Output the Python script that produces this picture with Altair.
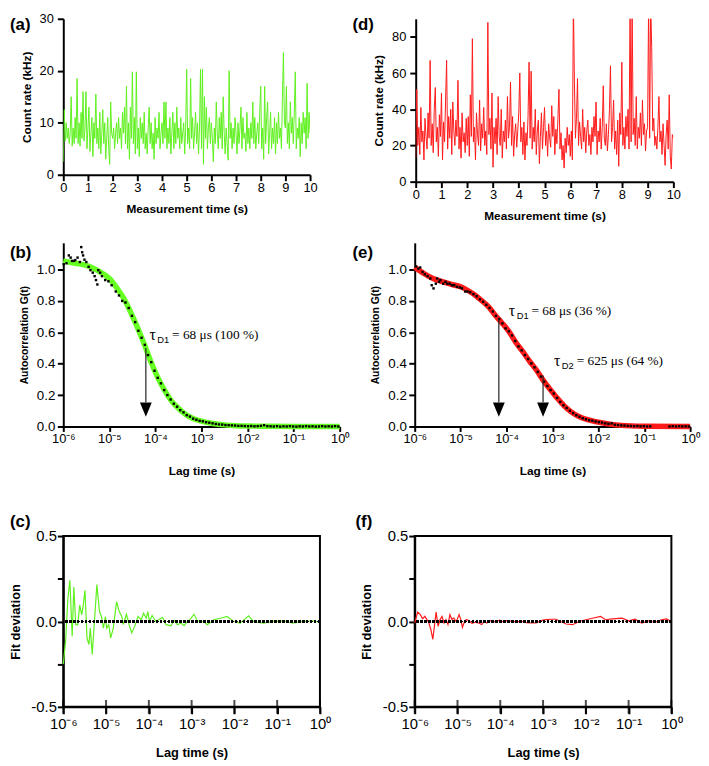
import altair as alt
import pandas as pd

FONT = "Liberation Sans"
SERIF = "Liberation Serif"
GREEN = "#5ef01e"
FIT_GREEN = "#66ff22"
RED = "#ff1a1a"

# ---------------- count-rate traces (kHz), one value every 0.04 s ----------------
count_a = [
    2.5, 12.5, 6.5, 10, 7, 9, 6, 8, 15, 5.5, 9, 6, 11, 7, 18.5, 6, 10, 5.5, 12, 7, 16, 6.5, 9, 16, 5,
    9, 13, 4.5, 8, 11, 3.5, 10, 7, 15.5, 6, 9, 5, 12, 4, 8, 12.5, 6, 10, 3, 7, 11, 5, 2, 14, 8,
    7, 9, 5, 8, 10, 6, 11, 7, 9, 5, 12, 8, 13, 6, 17, 5, 10, 3, 13, 7, 19.8, 6, 11, 4, 19.8,
    5, 9, 3.5, 11, 7, 10, 6, 12, 5, 8, 4, 9, 13, 6, 10, 5, 8, 3, 11, 6, 9, 7, 12, 5, 8,
    10, 6, 14, 7, 14, 5, 9, 6, 11, 4, 8, 12, 5, 10, 6, 13, 7, 9, 5, 11, 6, 8, 10, 4, 9,
    20.3, 6, 9, 5, 18.5, 7, 11, 5, 8, 12, 6, 10, 4, 9, 20.3, 5, 20.3, 2, 15, 7, 13, 5, 9, 11, 6,
    10, 7, 2.5, 9, 6, 14, 8, 5, 11, 7, 12, 5, 15, 8, 4, 9, 6, 2.8, 20, 7, 10, 5, 9, 6, 11,
    8, 4, 10, 6, 9, 13, 5, 11, 7, 8, 4.5, 12, 6, 9, 5, 10, 7, 14, 6, 11, 5, 8, 10, 6, 12,
    17, 5, 9, 3, 17, 6, 11, 14, 4, 8, 12, 5, 9, 6, 11, 4, 10, 6, 12, 7, 9, 5, 15, 23.5, 10,
    9, 17, 6, 10, 5, 14, 8, 11, 6, 12, 19.8, 5, 9, 7, 11, 3.5, 10, 6, 12, 8, 11, 5, 17.6, 7, 12,
    8,
]
count_d = [
    13, 51, 20, 30, 15, 41, 22, 28, 12, 35, 25, 18, 38, 24, 67, 20, 32, 16, 40, 52, 22, 30, 14, 37, 25,
    49, 12, 33, 22, 45, 67, 18, 36, 24, 40, 15, 44, 28, 20, 34, 25, 56, 18, 30, 13, 38, 22, 27, 16, 35,
    20, 36, 14, 48, 25, 79, 22, 30, 12, 38, 26, 20, 45, 17, 32, 24, 41, 20, 28, 15, 88, 26, 35, 18, 49,
    8, 30, 21, 35, 15, 47, 25, 20, 40, 13, 28, 22, 34, 18, 47, 24, 30, 55, 20, 36, 14, 26, 32, 19, 28,
    38, 60, 22, 30, 15, 33, 12, 27, 20, 36, 66, 24, 61, 18, 30, 22, 40, 15, 28, 34, 10, 25, 38, 18, 30,
    41, 20, 28, 14, 32, 24, 19, 42, 25, 36, 15, 29, 21, 35, 51, 18, 27, 12, 20, 7.5, 24, 16, 30, 20, 26,
    14, 28, 12, 100, 55, 24, 35, 57, 20, 33, 25, 18, 40, 22, 30, 16, 28, 34, 20, 26, 15, 30, 22, 36, 25,
    44, 15, 28, 22, 35, 18, 30, 53, 24, 20, 32, 17, 26, 40, 64, 22, 30, 45, 18, 28, 15, 34, 8.5, 38, 26,
    66, 20, 30, 18, 36, 25, 40, 18, 100, 22, 100, 26, 35, 20, 47, 18, 30, 24, 38, 20, 45, 26, 32, 17, 28,
    30, 100, 24, 100, 74, 28, 35, 20, 25, 18, 30, 47, 22, 28, 15, 32, 20, 9, 26, 34, 18, 48, 14, 7, 26,
    24,
]
SAMPLE_DT = 0.04

# ---------------- autocorrelation, sample 1 (b) ----------------
fit_b_exp = [-6.0, -5.75, -5.5, -5.25, -5.0, -4.85, -4.7, -4.55, -4.4, -4.25, -4.1, -3.95, -3.8,
             -3.65, -3.5, -3.35, -3.2, -3.0, -2.75, -2.5, -2.25, -2.0, -1.5, -1.0, 0.0]
fit_b_val = [1.055, 1.04, 1.027, 0.993, 0.943, 0.888, 0.822, 0.736, 0.638, 0.53, 0.414, 0.313, 0.23,
             0.162, 0.116, 0.078, 0.053, 0.034, 0.019, 0.01, 0.005, 0.003, 0.001, 0.0, 0.0]

dots_b_exp = [-5.99, -5.93, -5.88, -5.84, -5.81, -5.77, -5.74, -5.69, -5.64, -5.61, -5.59, -5.57, -5.54,
              -5.50, -5.45, -5.41, -5.36, -5.32, -5.29, -5.26, -5.24, -5.20, -5.16, -5.09, -5.02, -4.95,
              -4.86, -4.79,
              -4.72, -4.65, -4.58, -4.51, -4.44, -4.37, -4.30, -4.23, -4.16, -4.09, -4.02, -3.95, -3.88,
              -3.81, -3.74, -3.67, -3.60, -3.53, -3.46, -3.39, -3.32, -3.25, -3.18, -3.11, -3.04, -2.97,
              -2.90, -2.83, -2.76, -2.69, -2.62, -2.55, -2.48, -2.41, -2.34, -2.27, -2.20,
              -2.13, -2.06, -1.99, -1.92, -1.85, -1.78, -1.71, -1.64, -1.57, -1.50, -1.43, -1.36, -1.29,
              -1.22, -1.15, -1.08, -1.01, -0.94, -0.87, -0.80, -0.73, -0.66, -0.59, -0.52, -0.45, -0.38,
              -0.31, -0.24, -0.17, -0.10, -0.03]
dots_b_val = [1.034, 1.04, 1.09, 1.076, 1.055, 1.055, 1.06, 1.076, 1.048, 1.143, 1.11, 1.09, 1.063,
              1.048, 1.017, 0.996, 0.98, 0.958, 0.933, 0.905, 0.996, 0.98, 0.958, 0.933, 0.925, 0.9,
              0.86, 0.835,
              0.80, 0.79, 0.755, 0.705, 0.665, 0.61, 0.565, 0.52, 0.455, 0.41, 0.355, 0.31, 0.275,
              0.232, 0.20, 0.172, 0.145, 0.126, 0.104, 0.09, 0.072, 0.063, 0.05, 0.043, 0.036, 0.033,
              0.027, 0.024, 0.02, 0.016, 0.013, 0.012, 0.009, 0.008, 0.007, 0.006, 0.004,
              0.004, 0.003, 0.002, 0.003, 0.001, 0.002, 0.004, 0.008, 0.002, 0.001, 0.0, 0.002, -0.001,
              0.001, 0.0, 0.002, 0.0, -0.001, 0.001, 0.0, 0.002, 0.0, 0.001, -0.001, 0.0, 0.002,
              0.0, 0.001, 0.0, 0.002, 0.0]

# ---------------- autocorrelation, sample 2 (e) ----------------
fit_e_exp = [-6.0, -5.8, -5.6, -5.4, -5.2, -5.0, -4.85, -4.7, -4.55, -4.4, -4.25, -4.1, -3.95, -3.8,
             -3.65, -3.5, -3.35, -3.2, -3.05, -2.9, -2.75, -2.6, -2.45, -2.3, -2.15, -2.0, -1.75, -1.5,
             -1.0, 0.0]
fit_e_val = [1.015, 0.975, 0.943, 0.923, 0.905, 0.89, 0.868, 0.84, 0.804, 0.765, 0.71, 0.66, 0.606, 0.537,
             0.478, 0.417, 0.36, 0.294, 0.236, 0.182, 0.133, 0.095, 0.068, 0.049, 0.038, 0.028, 0.015,
             0.007, 0.002, 0.0]

dots_e_exp = [-5.97, -5.92, -5.88, -5.83, -5.78, -5.72, -5.66, -5.63, -5.59, -5.54, -5.51, -5.47, -5.44,
              -5.38, -5.33, -5.29, -5.24, -5.19, -5.14, -5.08, -5.02, -4.97, -4.90, -4.85,
              -4.79, -4.72, -4.65, -4.58, -4.51, -4.44, -4.37, -4.30, -4.23, -4.16, -4.09, -4.02, -3.95,
              -3.88, -3.81, -3.74, -3.67, -3.60, -3.53, -3.46, -3.39, -3.32, -3.25, -3.18, -3.11, -3.04,
              -2.97, -2.90, -2.83, -2.76, -2.69, -2.62, -2.55, -2.48, -2.41, -2.34, -2.27, -2.20, -2.13,
              -2.06, -1.99, -1.92, -1.85, -1.78, -1.71, -1.64, -1.57, -1.50, -1.43,
              -1.36, -1.29, -1.22, -1.15, -1.08, -1.01, -0.94, -0.87, -0.45, -0.38, -0.31, -0.24, -0.17,
              -0.10, -0.03]
dots_e_val = [1.02, 1.006, 1.013, 0.985, 0.97, 0.958, 0.943, 0.90, 0.88, 0.91, 0.943, 0.922, 0.933,
              0.91, 0.922, 0.91, 0.91, 0.90, 0.90, 0.89, 0.886, 0.88, 0.86, 0.86,
              0.855, 0.843, 0.83, 0.81, 0.795, 0.775, 0.755, 0.733, 0.705, 0.685, 0.657, 0.625, 0.606,
              0.58, 0.545, 0.51, 0.485, 0.455, 0.43, 0.402, 0.377, 0.348, 0.318, 0.286, 0.258, 0.232,
              0.21, 0.182, 0.157, 0.135, 0.118, 0.10, 0.085, 0.072, 0.062, 0.052, 0.046, 0.04, 0.037,
              0.032, 0.028, 0.025, 0.02, 0.017, 0.02, 0.011, 0.009, 0.007, 0.006,
              0.004, 0.003, 0.002, 0.003, 0.001, 0.002, 0.0, 0.001, 0.0, 0.002, 0.0, 0.001, 0.0,
              0.001, 0.0]

# ---------------- fit residuals ----------------
res_c_exp = [-6.0, -5.946, -5.892, -5.846, -5.792, -5.754, -5.708, -5.662, -5.615, -5.569, -5.538, -5.492,
             -5.446, -5.4, -5.369, -5.323, -5.277, -5.215, -5.154, -5.108, -5.062, -5.015, -4.985, -4.938,
             -4.892, -4.831, -4.754, -4.692, -4.631, -4.6, -4.523, -4.462, -4.4, -4.331, -4.254, -4.177,
             -4.123, -4.062, -4.023, -3.985, -3.923, -3.862, -3.831, -3.754, -3.677, -3.6, -3.485, -3.408,
             -3.331, -3.254, -3.177, -3.1, -3.023, -2.946, -2.869, -2.792, -2.715, -2.633, -2.479, -2.325,
             -2.171, -2.017, -1.863, -1.67, -1.555, -1.324, -1.092, -0.861, -0.63, -0.399, -0.168, -0.014]
res_c_val = [-0.25, -0.116, 0.135, 0.241, -0.087, 0.202, -0.019, -0.019, 0.096, 0.039, 0.087, 0.183,
             -0.096, -0.135, -0.039, -0.193, -0.019, 0.216, 0.058, 0.029, -0.039, 0.029, -0.039, -0.019,
             -0.096, -0.039, 0.116, 0.058, 0.029, -0.019, 0.042, -0.019, -0.067, -0.029, 0.029, 0.01,
             0.048, 0.019, 0.058, 0.0, 0.035, 0.01, 0.0, 0.013, 0.023, -0.019, -0.025, 0.006,
             -0.019, -0.01, -0.025, 0.0, 0.015, 0.042, 0.006, -0.004, 0.0, -0.019, 0.01, 0.019,
             0.029, 0.0, -0.01, 0.033, 0.0, -0.01, 0.0, 0.004, -0.01, 0.0, 0.004, -0.004]

res_f_exp = [-6.0, -5.931, -5.869, -5.815, -5.762, -5.715, -5.669, -5.623, -5.577, -5.531, -5.5, -5.454,
             -5.408, -5.362, -5.315, -5.269, -5.223, -5.177, -5.131, -5.085, -5.038, -5.008, -4.962, -4.915,
             -4.885, -4.838, -4.792, -4.738, -4.662, -4.585, -4.508, -4.431, -4.377, -4.315, -4.238, -4.162,
             -4.085, -4.008, -3.931, -3.854, -3.738, -3.623, -3.508, -3.392, -3.277, -3.162, -3.046, -2.931,
             -2.815, -2.7, -2.462, -2.308, -2.154, -2.0, -1.846, -1.654, -1.538, -1.385, -1.154, -1.0,
             -0.846, -0.692, -0.538, -0.385, -0.231, -0.115, 0.0]
res_f_val = [-0.009, 0.055, 0.04, 0.016, 0.03, 0.011, -0.009, -0.047, -0.105, -0.009, 0.055, -0.028,
             0.011, 0.03, -0.009, 0.011, -0.018, 0.04, 0.011, 0.02, 0.001, 0.011, 0.04, 0.005,
             -0.034, -0.003, 0.011, 0.005, -0.011, -0.005, -0.009, -0.018, 0.001, -0.009, 0.005, -0.003,
             0.001, 0.007, -0.003, 0.005, 0.001, -0.003, 0.001, -0.007, -0.009, -0.009, 0.005, 0.011,
             0.013, 0.013, -0.015, -0.019, 0.0, 0.01, 0.019, 0.029, 0.01, 0.015, 0.019, 0.004,
             0.013, -0.01, 0.004, -0.006, 0.01, 0.015, 0.0]

decade_exp = [-6, -5, -4, -3, -2, -1, 0]
acf_ticks = [0.0, 0.2, 0.4, 0.6, 0.8, 1.0]

# ---------------- annotations ----------------
arrow_b_lag = [6.2e-5]
arrow_b_top = [0.50]
arrow_e_lag = [6.8e-5, 6.25e-4]
arrow_e_top = [0.69, 0.325]
label_b = {"lag": [7.4e-5], "g": [0.585], "tau": ["τ"], "sub": ["D1"], "rest": ["= 68 μs (100 %)"]}
label_e = {"lag": [1.12e-4, 1.08e-3], "g": [0.733, 0.414], "tau": ["τ", "τ"], "sub": ["D1", "D2"],
           "rest": ["= 68 μs (36 %)", "= 625 μs (64 %)"]}

# ===================================================================================
LAB_EXPR = ("datum.value < 3e-6 ? '10⁻⁶' : datum.value < 3e-5 ? '10⁻⁵' : datum.value < 3e-4 ? '10⁻⁴' : "
            "datum.value < 3e-3 ? '10⁻³' : datum.value < 3e-2 ? '10⁻²' : datum.value < 0.3 ? '10⁻¹' : '10⁰'")
DECADES = [10.0 ** e for e in decade_exp]
LOGSCALE = alt.Scale(type="log", domain=[1e-6, 1], nice=False)


def panel_label(txt, x, y):
    return alt.Chart(pd.DataFrame({"lab": [txt]})).mark_text(
        align="left", baseline="middle", font=FONT, fontSize=17, fontWeight="bold", color="black"
    ).encode(x=alt.value(x), y=alt.value(y), text="lab:N")


def trace_panel(values, color, ymax, yticks, w, h, label, lx):
    t = [round(i * SAMPLE_DT, 3) for i in range(len(values))]
    df = pd.DataFrame({"t": t, "rate": values})
    line = alt.Chart(df).mark_line(color=color, strokeWidth=1, clip=True).encode(
        x=alt.X("t:Q", scale=alt.Scale(domain=[0, 10], nice=False),
                axis=alt.Axis(values=list(range(11)), title="Measurement time (s)", labelFontSize=13,
                              tickSize=6, labelPadding=1, titleFontSize=12, titlePadding=9,
                              labelFlush=False, labelOverlap=False)),
        y=alt.Y("rate:Q", scale=alt.Scale(domain=[0, ymax], nice=False),
                axis=alt.Axis(values=yticks, title="Count rate (kHz)", labelFontSize=13, tickSize=6,
                              labelPadding=4, titleFontSize=12, titlePadding=6, labelOverlap=False)),
    )
    return alt.layer(line, panel_label(label, lx, 6)).properties(width=w, height=h)


ACF_XAXIS = alt.Axis(values=DECADES, labelExpr=LAB_EXPR, title="Lag time (s)", labelFontSize=13,
                     tickSize=5, labelPadding=1, titleFontSize=12, titlePadding=21,
                     labelFlush=False, labelOverlap=False)
ACF_YAXIS = alt.Axis(values=acf_ticks, format=".1f", tickCount=6,
                     title="Autocorrelation G(t)", labelFontSize=13.5, tickSize=6,
                     labelPadding=2.5, titleFontSize=10.5, titlePadding=7, labelOverlap=False,
                     labelFlush=False)
ACF_YSCALE = alt.Scale(domain=[0, 1.17], nice=False, zero=True)


def ax(field):
    return alt.X(field, type="quantitative", scale=LOGSCALE, axis=ACF_XAXIS)


def ay(field):
    return alt.Y(field, type="quantitative", scale=ACF_YSCALE, axis=ACF_YAXIS)


ARROW_TIP = 0.155
HEAD_Y = 0.108
HEAD = "M-1,-1.2L1,-1.2L0,1.2Z"


def acf_panel(fit_exp, fit_val, dot_exp, dot_val, color, arrow_lag, arrow_top, lab, w, h, label, lx):
    fit = pd.DataFrame({"lag": [10.0 ** e for e in fit_exp], "g": fit_val})
    dots = pd.DataFrame({"lag": [10.0 ** e for e in dot_exp], "g": dot_val})
    arr = pd.DataFrame({"lag": arrow_lag, "g": arrow_top, "g2": [ARROW_TIP] * len(arrow_lag),
                        "head": [HEAD_Y] * len(arrow_lag)})
    ann = pd.DataFrame(lab)
    l_fit = alt.Chart(fit).mark_line(color=color, strokeWidth=5.5, interpolate="monotone").encode(
        x=ax("lag"), y=ay("g"))
    l_dots = alt.Chart(dots).mark_square(size=6, color="black", opacity=1).encode(x=ax("lag"), y=ay("g"))
    l_rule = alt.Chart(arr).mark_rule(color="#222222", strokeWidth=1.2).encode(
        x=ax("lag"), y=ay("g"), y2=alt.Y2("g2"))
    l_head = alt.Chart(arr).mark_point(shape=HEAD, filled=True, size=144, color="black", opacity=1).encode(
        x=ax("lag"), y=ay("head"))
    t_tau = alt.Chart(ann).mark_text(align="left", baseline="middle", font=SERIF, fontSize=16,
                                     color="black").encode(x=ax("lag"), y=ay("g"), text="tau:N")
    t_sub = alt.Chart(ann).mark_text(align="left", baseline="middle", font=FONT, fontSize=9.5, dx=8,
                                     dy=5, color="black").encode(x=ax("lag"), y=ay("g"), text="sub:N")
    t_rest = alt.Chart(ann).mark_text(align="left", baseline="middle", font=SERIF, fontSize=13.5, dx=23,
                                      color="black").encode(x=ax("lag"), y=ay("g"), text="rest:N")
    return alt.layer(l_fit, l_dots, l_rule, l_head, t_tau, t_sub, t_rest,
                     panel_label(label, lx, 10)).properties(width=w, height=h)


def resid_panel(exps, vals, color, w, h, label, lx):
    df = pd.DataFrame({"lag": [10.0 ** e for e in exps], "r": vals})
    dec = pd.DataFrame({"lag": DECADES})
    yticks = [-0.5, -0.375, -0.25, -0.125, 0, 0.125, 0.25, 0.375, 0.5]
    x = alt.X("lag:Q", scale=LOGSCALE,
              axis=alt.Axis(values=DECADES, labelExpr=LAB_EXPR, title="Lag time (s)", labelFontSize=15,
                            tickSize=7, labelPadding=3, titleFontSize=13, titlePadding=15,
                            labelFlush=False, labelOverlap=False))
    y = alt.Y("r:Q", scale=alt.Scale(domain=[-0.5, 0.5], nice=False),
              axis=alt.Axis(values=yticks, title="Fit deviation", labelFontSize=15, tickSize=6,
                            labelPadding=1, titleFontSize=13, titlePadding=9, labelOverlap=False,
                            labelExpr="datum.value == 0.5 ? '0.5' : datum.value == 0 ? '0.0' : "
                                      "datum.value == -0.5 ? '-0.5' : ''"))
    line = alt.Chart(df).mark_line(color=color, strokeWidth=1.2).encode(x=x, y=y)
    zero = alt.Chart(df).mark_rule(color="black", strokeDash=[2, 2], strokeWidth=1.5).encode(y=alt.datum(0))
    ticks = alt.Chart(dec).mark_tick(orient="vertical", color="black", thickness=2, size=14).encode(
        x="lag:Q", y=alt.datum(-0.5))
    return alt.layer(line, zero, ticks, panel_label(label, lx, -14)).properties(
        width=w, height=h, view=alt.ViewBackground(stroke="black", strokeWidth=2))


pa = trace_panel(count_a, GREEN, 30, [0, 10, 20, 30], 250, 158, "(a)", -54)
pd_ = trace_panel(count_d, RED, 90, [0, 20, 40, 60, 80], 261, 165, "(d)", -64)
pb = acf_panel(fit_b_exp, fit_b_val, dots_b_exp, dots_b_val, FIT_GREEN, arrow_b_lag, arrow_b_top, label_b,
               280, 186, "(b)", -54)
pe = acf_panel(fit_e_exp, fit_e_val, dots_e_exp, dots_e_val, RED, arrow_e_lag, arrow_e_top, label_e,
               279, 186, "(e)", -63)
pc = resid_panel(res_c_exp, res_c_val, GREEN, 260, 173, "(c)", -54)
pf = resid_panel(res_f_exp, res_f_val, RED, 260, 173, "(f)", -60)

row1 = alt.hconcat(pa, pd_, spacing=107, bounds="flush")
row2 = alt.hconcat(pb, pe, spacing=76, bounds="flush")
row3 = alt.hconcat(pc, pf, spacing=96, bounds="flush")
lower = alt.vconcat(row2, row3, spacing=36)

chart = alt.vconcat(row1, lower, spacing=22).properties(
    padding=0, background="white"
).configure_view(stroke=None).configure_axis(
    grid=False, domainColor="black", domainWidth=2, tickColor="black", tickWidth=2,
    labelColor="black", titleColor="black", labelFont=FONT, titleFont=FONT, titleFontWeight="bold"
)

chart.save("out.html", embed_options={"renderer": "svg", "actions": False})
